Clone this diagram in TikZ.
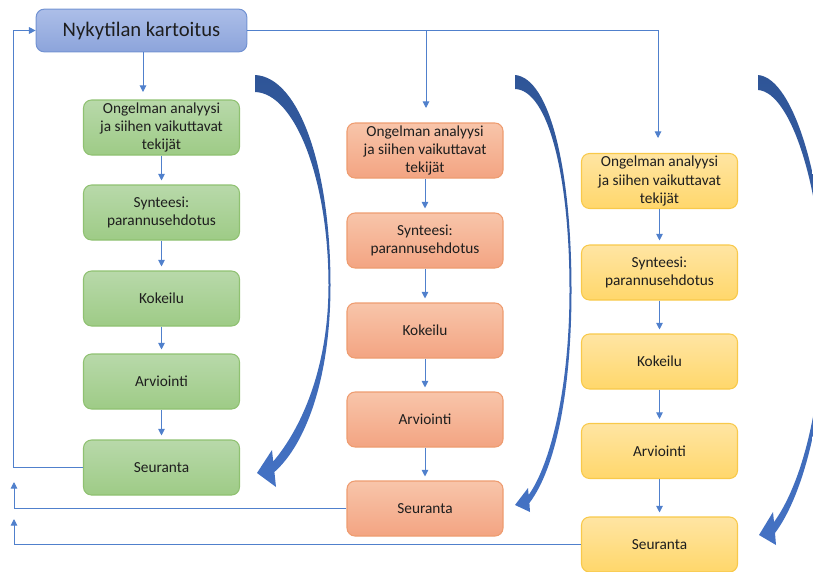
\documentclass[tikz,border=0pt]{standalone}
\usepackage{fontspec}
\setmainfont{Carlito}
\usetikzlibrary{arrows.meta}

\definecolor{txt}{HTML}{1E1E1E}
\definecolor{linec}{HTML}{5080CC}
\definecolor{arrtop}{HTML}{2F5597}
\definecolor{arrbot}{HTML}{4472C4}
\definecolor{bluetop}{HTML}{ACBEE8}
\definecolor{bluebot}{HTML}{8CA4DB}
\definecolor{blueedge}{HTML}{7393D3}
\definecolor{greentop}{HTML}{B8D9AA}
\definecolor{greenbot}{HTML}{9ECB86}
\definecolor{greenedge}{HTML}{8FC171}
\definecolor{orangetop}{HTML}{F8C5AA}
\definecolor{orangebot}{HTML}{F3A482}
\definecolor{orangeedge}{HTML}{EE9C70}
\definecolor{yellowtop}{HTML}{FFE5A3}
\definecolor{yellowbot}{HTML}{FFD76B}
\definecolor{yellowedge}{HTML}{F8C94A}

\tikzset{
  stepbox/.style={rounded corners=6pt, line width=0.8pt, align=center,
    minimum width=117pt, minimum height=41.25pt, inner sep=0pt, text=txt,
    font={\fontsize{11.5}{13.8}\selectfont}},
  greenbox/.style={stepbox, draw=greenedge, top color=greentop, bottom color=greenbot},
  orangebox/.style={stepbox, draw=orangeedge, top color=orangetop, bottom color=orangebot},
  yellowbox/.style={stepbox, draw=yellowedge, top color=yellowtop, bottom color=yellowbot},
  titlebox/.style={rounded corners=6pt, line width=0.8pt, draw=blueedge,
    top color=bluetop, bottom color=bluebot, minimum width=158pt,
    minimum height=32pt, inner sep=0pt, text=txt,
    font={\fontsize{15.5}{18}\selectfont}},
  conn/.style={draw=linec, line width=0.75pt, -{Triangle[length=5pt,width=5pt]}},
  bigarrow/.style={top color=arrtop, bottom color=arrbot, draw=none}
}

\begin{document}
\begin{tikzpicture}[x=0.75pt,y=-0.75pt]
\useasboundingbox (0,0) rectangle (813,571);

% title box
\node[titlebox] (top) at (141.5,30.5) {Nykytilan kartoitus};

% first column
\node[greenbox] (g1) at (161.5,127.5) {Ongelman analyysi\\ja siihen vaikuttavat\\tekijät};
\node[greenbox] (g2) at (161.5,212.5) {Synteesi:\\parannusehdotus};
\node[greenbox] (g3) at (161.5,298.5) {Kokeilu};
\node[greenbox] (g4) at (161.5,381.5) {Arviointi};
\node[greenbox] (g5) at (161.5,467.5) {Seuranta};

% second column
\node[orangebox] (o1) at (425,150.5) {Ongelman analyysi\\ja siihen vaikuttavat\\tekijät};
\node[orangebox] (o2) at (425,240.5) {Synteesi:\\parannusehdotus};
\node[orangebox] (o3) at (425,330.5) {Kokeilu};
\node[orangebox] (o4) at (425,419.5) {Arviointi};
\node[orangebox] (o5) at (425,508.5) {Seuranta};

% third column
\node[yellowbox] (y1) at (659.5,181) {Ongelman analyysi\\ja siihen vaikuttavat\\tekijät};
\node[yellowbox] (y2) at (659.5,272.5) {Synteesi:\\parannusehdotus};
\node[yellowbox] (y3) at (659.5,361.5) {Kokeilu};
\node[yellowbox] (y4) at (659.5,451) {Arviointi};
\node[yellowbox] (y5) at (659.5,544.5) {Seuranta};

% drops from the title box
\coordinate (d1) at (143,92);
\coordinate (d2) at (426,108);
\coordinate (d3) at (658,138);
\draw[conn] (top.south -| d1) -- (d1);
\draw[conn] (top.east) -| (d3);
\draw[conn] (top.east -| d2) -- (d2);

% steps inside the columns
\foreach \c in {g,o,y}{
  \draw[conn, shorten >=3pt] (\c1) -- (\c2);
  \draw[conn, shorten >=3pt] (\c2) -- (\c3);
  \draw[conn, shorten >=3pt] (\c3) -- (\c4);
  \draw[conn, shorten >=3pt] (\c4) -- (\c5);
}

% feedback lines on the left
\coordinate (fb1) at (13,0);
\coordinate (r2) at (14,482);
\coordinate (r3) at (14,519);
\draw[conn] (g5.west) -- (g5.west -| fb1) |- (top.west);
\draw[conn] (o5.west) -| (r2);
\draw[conn] (y5.west) -| (r3);

% curved cycle arrows
\begin{scope}
\clip (0,0) rectangle (813,571);
\path[bigarrow] (255,75) .. controls (300,77) and (330.5,170) .. (330.5,285)
  .. controls (330.5,380) and (305,445) .. (274.4,472)
  -- (276,487) -- (257,473) -- (272,450) -- (273.2,461.5)
  .. controls (300,430) and (328.5,370) .. (328.5,285)
  .. controls (328.5,180) and (295,93) .. (255,92) -- cycle;
\path[bigarrow] (515,75) .. controls (550,78) and (571.5,170) .. (571.5,290)
  .. controls (571.5,390) and (556,468) .. (529.4,503)
  -- (530,512) -- (515,505) -- (528,488) -- (528.6,495)
  .. controls (550,465) and (569.5,390) .. (569.5,290)
  .. controls (569.5,175) and (548,90) .. (515,89) -- cycle;
\path[bigarrow] (758,75) .. controls (795,78) and (826,190) .. (826,300)
  .. controls (826,420) and (800,500) .. (775,533)
  -- (776,545) -- (759,535) -- (773,512) -- (774,522)
  .. controls (796,492) and (823,420) .. (823,300)
  .. controls (823,195) and (792,92) .. (758,90) -- cycle;
\end{scope}
\end{tikzpicture}
\end{document}
